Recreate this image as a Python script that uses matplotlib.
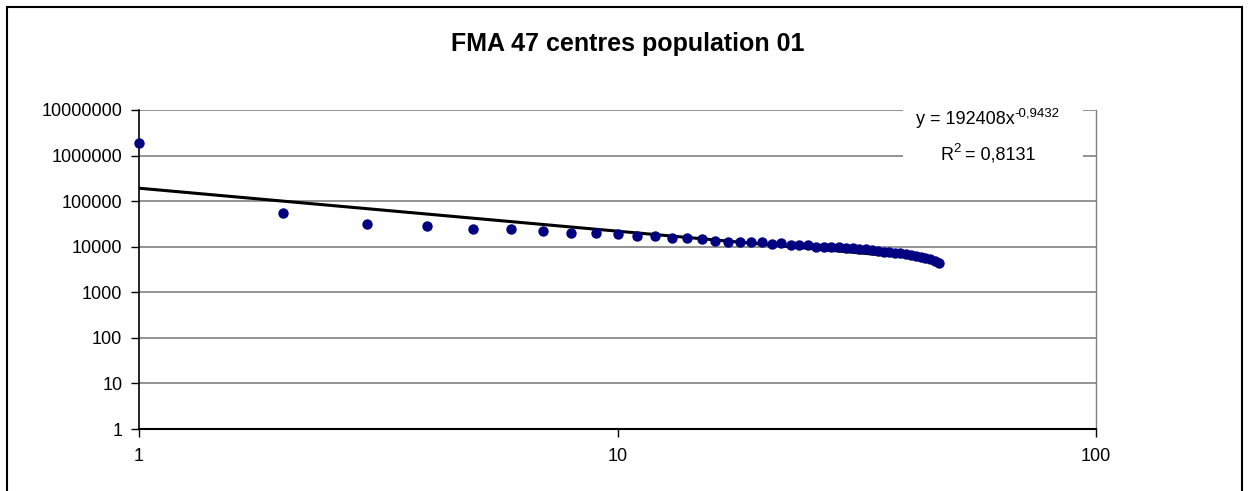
import matplotlib.pyplot as plt
from matplotlib.patches import Rectangle
import numpy as np

plt.rcParams['font.family'] = ['Liberation Sans', 'DejaVu Sans']

# rank of each centre and its population
rank = list(range(1, 48))
population = [1900000, 56000, 31000, 28500, 24500, 24500, 22300, 20300, 20500, 18800,
              17300, 17300, 15700, 15900, 14800, 13500, 12400, 12600, 12700, 12500,
              11700, 11800, 10800, 10800, 10700, 10100, 9900, 9800, 9700, 9500,
              9200, 8900, 8700, 8400, 8100, 7800, 7500, 7300, 7100, 6800,
              6500, 6300, 6000, 5700, 5300, 4800, 4300]

# power trendline as printed on the chart
coef_a = 192408
coef_b = "-0,9432"
r_squared = "0,8131"

x_ticks = [1, 10, 100]
y_ticks = [1, 10, 100, 1000, 10000, 100000, 1000000, 10000000]

fig = plt.figure(figsize=(12.48, 4.91), dpi=100)
ax = fig.add_axes([139 / 1248, 1 - 429 / 491, (1096 - 139) / 1248, (429 - 110) / 491])

# outer chart border
fig.patches.append(Rectangle((7 / 1248, -0.05), (1242 - 7) / 1248, 1.05 - 7 / 491,
                             transform=fig.transFigure, fill=False,
                             edgecolor='black', linewidth=1.5))

ax.set_xscale('log')
ax.set_yscale('log')
ax.set_xlim(1, 100)
ax.set_ylim(1, 10000000)

for v in y_ticks[1:]:
    ax.axhline(v, color='#808080', linewidth=1.2, zorder=0)

xs = np.array(rank, dtype=float)
b = float(coef_b.replace(',', '.'))
ax.plot(xs, coef_a * xs ** b, color='black', linewidth=2.2, zorder=2)
ax.scatter(rank, population, s=42, color='#000080', zorder=3, clip_on=False)

ax.set_xticks(x_ticks)
ax.set_xticklabels([str(v) for v in x_ticks])
ax.set_yticks(y_ticks)
ax.set_yticklabels([str(v) for v in y_ticks])
ax.minorticks_off()
ax.tick_params(axis='both', labelsize=13, length=6, width=1, color='black', direction='out')
ax.tick_params(axis='x', pad=8)
ax.tick_params(axis='y', pad=6)

ax.spines['left'].set_color('black')
ax.spines['bottom'].set_color('black')
ax.spines['left'].set_linewidth(1.2)
ax.spines['bottom'].set_linewidth(1.5)
ax.spines['top'].set_visible(False)
ax.spines['right'].set_color('#808080')
ax.spines['right'].set_linewidth(1.0)

fig.text(628 / 1248, 1 - 44 / 491, 'FMA 47 centres population 01',
         ha='center', va='center', fontsize=18, fontweight='bold')

# trendline label on a white box covering the gridlines
fig.patches.append(Rectangle((903 / 1248, 1 - 176 / 491), 180 / 1248, 70 / 491,
                             transform=fig.transFigure, facecolor='white',
                             edgecolor='none', zorder=5))
t1 = fig.text(916 / 1248, 1 - 120 / 491, 'y = %dx' % coef_a, ha='left', va='center',
              fontsize=13, zorder=6)
fig.add_artist(plt.Annotation(coef_b, xy=(1, 0.5), xycoords=t1, ha='left',
                              va='bottom', fontsize=9.5, zorder=6))
t2 = fig.text(940 / 1248, 1 - 155 / 491, 'R', ha='left', va='center',
              fontsize=13, zorder=6)
sq = plt.Annotation('2', xy=(1, 0.5), xycoords=t2, ha='left', va='bottom',
                    fontsize=9.5, zorder=6)
fig.add_artist(sq)
fig.add_artist(plt.Annotation(' = %s' % r_squared, xy=(1, 0), xycoords=(sq, t2),
                              ha='left', va='bottom', fontsize=13, zorder=6))

fig.savefig('out.png', dpi=100)
